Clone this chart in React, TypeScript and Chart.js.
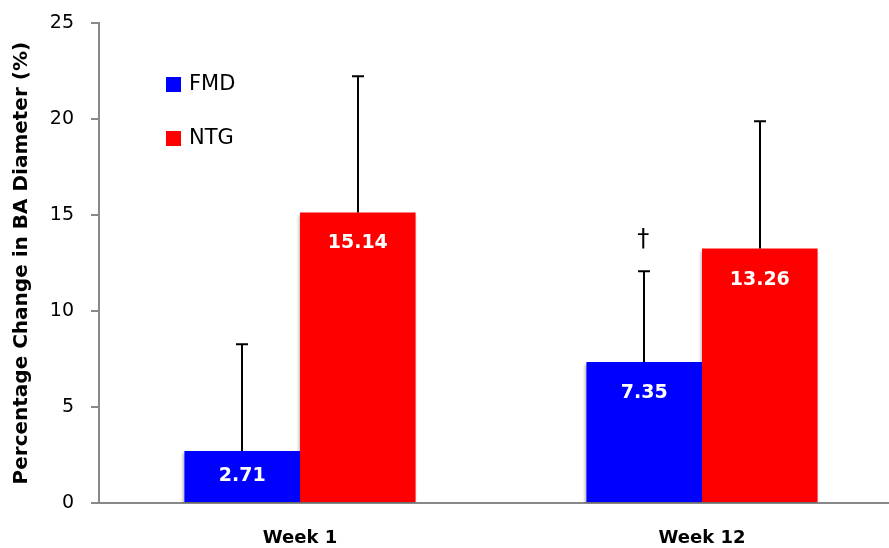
import React, { useEffect, useRef } from "react";
import { Chart, registerables } from "chart.js";

Chart.register(...registerables);

const categories = ["Week 1", "Week 12"];
const seriesNames = ["FMD", "NTG"];
const fmdValues = [2.71, 7.35];
const ntgValues = [15.14, 13.26];
const fmdErrors = [5.57, 4.73];
const ntgErrors = [7.1, 6.64];
const seriesColors = ["#0000FF", "#FF0000"];
const yTicks = [0, 5, 10, 15, 20, 25];
const markerText = "†";
const markerCategory = 1;
const markerValue = 13.7;
const yTitle = "Percentage Change in BA Diameter (%)";

const FONT = "'DejaVu Sans', sans-serif";
const SHIFT = 5;

export default function App() {
  const ref = useRef<HTMLCanvasElement | null>(null);
  useEffect(() => {
    const canvas = ref.current;
    if (!canvas) return;
    const errors = [fmdErrors, ntgErrors];

    const shadowPlugin = {
      id: "barShadow",
      beforeDatasetsDraw(chart: any) {
        const ctx = chart.ctx;
        ctx.save();
        ctx.shadowColor = "rgba(0,0,0,0.3)";
        ctx.shadowBlur = 3;
        ctx.shadowOffsetX = -1;
        ctx.shadowOffsetY = 2;
      },
      afterDatasetsDraw(chart: any) {
        chart.ctx.restore();
      },
    };

    const overlay = {
      id: "overlay",
      afterDatasetsDraw(chart: any) {
        const ctx = chart.ctx;
        const yScale = chart.scales.y;
        ctx.save();
        chart.data.datasets.forEach((ds: any, di: number) => {
          const meta = chart.getDatasetMeta(di);
          meta.data.forEach((bar: any, i: number) => {
            const v = ds.data[i];
            const top = yScale.getPixelForValue(v + errors[di][i]);
            const x = Math.round(bar.x);
            ctx.strokeStyle = "#000";
            ctx.lineWidth = 2;
            ctx.beginPath();
            ctx.moveTo(x, bar.y);
            ctx.lineTo(x, top);
            ctx.moveTo(x - 6, top);
            ctx.lineTo(x + 6, top);
            ctx.stroke();
          });
        });
        ctx.fillStyle = "#fff";
        ctx.font = `bold 19px ${FONT}`;
        ctx.textAlign = "center";
        ctx.textBaseline = "middle";
        chart.data.datasets.forEach((ds: any, di: number) => {
          const meta = chart.getDatasetMeta(di);
          meta.data.forEach((bar: any, i: number) => {
            const mid = (bar.y + bar.base) / 2;
            const y = Math.min(bar.y + 31, mid);
            ctx.fillText(ds.data[i].toFixed(2), bar.x, y);
          });
        });
        const mbar = chart.getDatasetMeta(0).data[markerCategory];
        ctx.fillStyle = "#000";
        ctx.font = `24px ${FONT}`;
        ctx.fillText(markerText, mbar.x - 1, yScale.getPixelForValue(markerValue));
        ctx.font = `21px ${FONT}`;
        ctx.textAlign = "left";
        seriesNames.forEach((name, i) => {
          const y = 77 + SHIFT + i * 54;
          ctx.fillStyle = seriesColors[i];
          ctx.fillRect(166, y, 15, 15);
          ctx.fillStyle = "#000";
          ctx.fillText(name, 189, y + 8);
        });
        ctx.restore();
      },
    };

    const chart = new Chart(canvas, {
      type: "bar",
      data: {
        labels: categories,
        datasets: [
          {
            label: seriesNames[0],
            data: fmdValues,
            backgroundColor: seriesColors[0],
            categoryPercentage: 0.575,
            barPercentage: 1.0,
          },
          {
            label: seriesNames[1],
            data: ntgValues,
            backgroundColor: seriesColors[1],
            categoryPercentage: 0.575,
            barPercentage: 1.0,
          },
        ],
      },
      options: {
        responsive: false,
        animation: false,
        layout: { padding: { top: 18, right: 0, left: 0, bottom: 0 } },
        plugins: { legend: { display: false }, tooltip: { enabled: false } },
        scales: {
          x: {
            grid: { display: false, drawTicks: false },
            border: { display: true, color: "#888", width: 2 },
            ticks: {
              color: "#000",
              padding: 25,
              font: { family: FONT, size: 18, weight: "bold" },
            },
            afterFit: (s: any) => {
              s.height = 45;
            },
          },
          y: {
            min: 0,
            max: 25,
            afterBuildTicks: (s: any) => {
              s.ticks = yTicks.map((v) => ({ value: v }));
            },
            grid: {
              drawOnChartArea: false,
              drawTicks: true,
              tickLength: 8,
              color: "#888",
              lineWidth: 2,
            },
            border: { display: true, color: "#888", width: 2 },
            ticks: {
              color: "#000",
              padding: 17,
              font: { family: FONT, size: 19 },
            },
            title: {
              display: true,
              text: yTitle,
              color: "#000",
              padding: { top: 10, bottom: 0 },
              font: { family: FONT, size: 20, weight: "bold" },
            },
            afterFit: (s: any) => {
              s.width = 99;
            },
          },
        },
      },
      plugins: [shadowPlugin, overlay],
    });
    return () => chart.destroy();
  }, []);

  return (
    <div
      style={{
        position: "fixed",
        left: 0,
        top: 0,
        width: 889,
        height: 548,
        overflow: "hidden",
        background: "#fff",
      }}
    >
      <canvas
        ref={ref}
        width={903}
        height={548 + SHIFT}
        style={{ position: "absolute", left: 0, top: -SHIFT, width: 903, height: 548 + SHIFT }}
      />
    </div>
  );
}
